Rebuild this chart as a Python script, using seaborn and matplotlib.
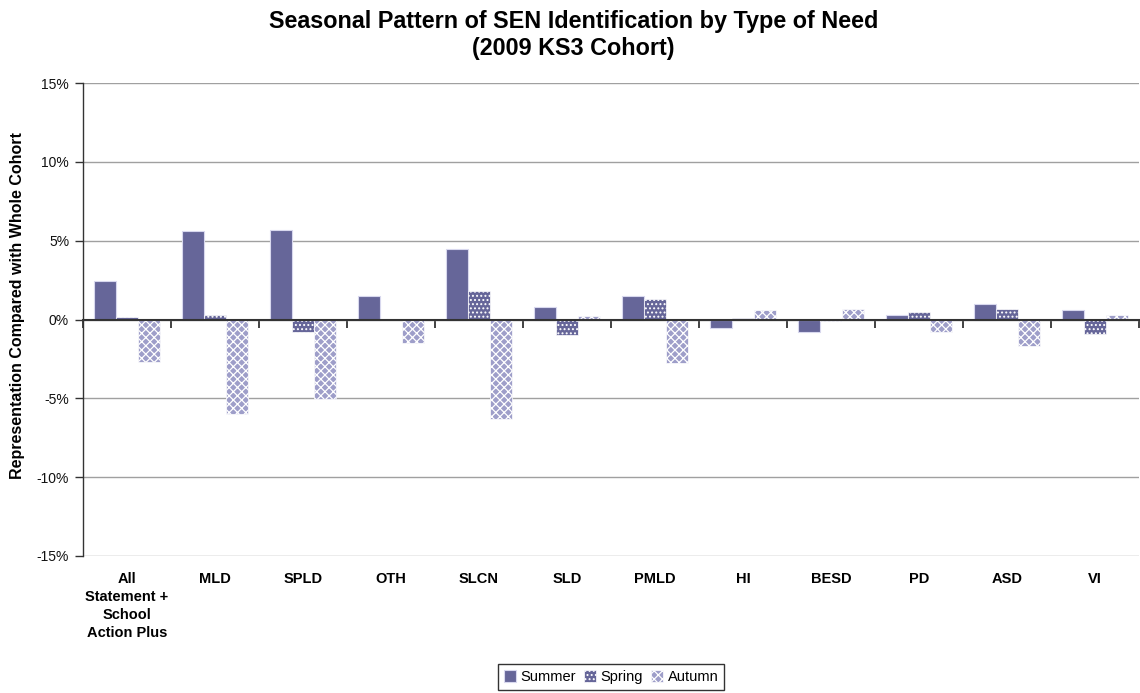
import matplotlib
matplotlib.use("Agg")
import matplotlib.pyplot as plt
from matplotlib.ticker import FuncFormatter, MultipleLocator
from matplotlib.transforms import blended_transform_factory
import numpy as np
import pandas as pd
import seaborn as sns

# Data: representation compared with whole cohort (%)
categories = ["All\nStatement +\nSchool\nAction Plus", "MLD", "SPLD", "OTH", "SLCN",
              "SLD", "PMLD", "HI", "BESD", "PD", "ASD", "VI"]
summer = [2.45, 5.6, 5.68, 1.5, 4.45, 0.8, 1.5, -0.55, -0.8, 0.3, 1.0, 0.6]
spring = [0.15, 0.27, -0.8, 0.0, 1.8, -1.0, 1.27, 0.08, -0.08, 0.5, 0.68, -0.9]
autumn = [-2.7, -6.0, -5.04, -1.5, -6.3, 0.2, -2.75, 0.6, 0.68, -0.8, -1.65, 0.3]
seasons = ["Summer", "Spring", "Autumn"]

df = pd.DataFrame({
    "category": categories * 3,
    "season": [s for s in seasons for _ in categories],
    "value": summer + spring + autumn,
})

sns.set_theme(style="white")
plt.rcParams["font.family"] = ["Liberation Sans", "DejaVu Sans"]
plt.rcParams["hatch.linewidth"] = 0.9
for key in ("text.color", "axes.labelcolor", "xtick.color", "ytick.color"):
    plt.rcParams[key] = "#000000"

fig = plt.figure(figsize=(11.4, 6.93), dpi=100)
ax = fig.add_axes([0.0728, 0.1977, 0.9263, 0.6825])

palette = {"Summer": "#666699", "Spring": "#666699", "Autumn": "#9e9ec9"}
sns.barplot(data=df, x="category", y="value", hue="season", order=categories,
            hue_order=seasons, palette=palette, width=0.76, saturation=1,
            legend=False, ax=ax, zorder=3)

styles = {
    "Summer": dict(hatch=None, edgecolor="#d8d8ee", linewidth=0.8),
    "Spring": dict(hatch="....", edgecolor="#ffffff", linewidth=0.5),
    "Autumn": dict(hatch="xxxx", edgecolor="#ffffff", linewidth=0.5),
}
for cont, season in zip(ax.containers, seasons):
    for p in cont.patches:
        st = styles[season]
        p.set_edgecolor(st["edgecolor"])
        p.set_linewidth(st["linewidth"])
        if st["hatch"]:
            p.set_hatch(st["hatch"])

# y axis
ax.set_ylim(-15, 15)
ax.yaxis.set_major_locator(MultipleLocator(5))
ax.yaxis.set_major_formatter(FuncFormatter(lambda v, _: f"{v:.0f}%"))
ax.grid(axis="y", color="#a0a0a0", linewidth=1.0, zorder=0)
ax.tick_params(axis="y", which="major", left=True, length=6, width=1,
               color="#333333", labelsize=10, pad=4, labelcolor="#111111")
ax.set_ylabel("Representation Compared with Whole Cohort", fontsize=11.5,
              fontweight="bold")
ax.yaxis.set_label_coords(-0.055, 0.53)

# category axis drawn along zero, labels below the plot area
ax.set_xlim(-0.5, len(categories) - 0.5)
ax.spines["bottom"].set_position(("data", 0))
ax.spines["bottom"].set_color("#333333")
ax.spines["bottom"].set_linewidth(1.5)
ax.spines["bottom"].set_zorder(4)
ax.spines["left"].set_color("#333333")
ax.spines["left"].set_linewidth(1.0)
ax.spines["top"].set_visible(False)
ax.spines["right"].set_visible(False)
ax.set_xticks(np.arange(len(categories) + 1) - 0.5)
ax.set_xticklabels([])
ax.tick_params(axis="x", bottom=True, length=6, width=1.2, color="#222222",
               direction="out")
ax.set_xlabel("")

trans = blended_transform_factory(ax.transData, ax.transAxes)
for i, name in enumerate(categories):
    ax.text(i, -0.033, name, transform=trans, ha="center", va="top",
            fontsize=10.5, fontweight="bold", linespacing=1.38, color="#000000")

fig.suptitle("Seasonal Pattern of SEN Identification by Type of Need\n(2009 KS3 Cohort)",
             x=0.503, y=0.985, fontsize=16.8, fontweight="bold", linespacing=1.2)

handles = [ax.containers[k].patches[0] for k in range(3)]
leg = fig.legend(handles, seasons, loc="lower center", bbox_to_anchor=(0.536, -0.006),
                 ncol=3, frameon=True, fontsize=10.5, handlelength=0.8,
                 handleheight=0.8, handletextpad=0.3, columnspacing=0.6,
                 borderpad=0.4, fancybox=False)
leg.get_frame().set_edgecolor("#000000")
leg.get_frame().set_linewidth(1.0)

fig.savefig("out.png", dpi=100)
